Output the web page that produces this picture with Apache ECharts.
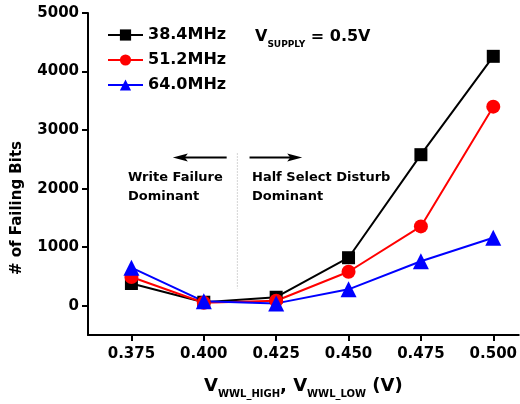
<!DOCTYPE html>
<html><head><meta charset="utf-8">
<script src="https://cdn.jsdelivr.net/npm/echarts@6/dist/echarts.min.js"></script>
<style>html,body{margin:0;padding:0;background:#fff}#c{width:520px;height:404px}</style>
</head><body><div id="c"></div>
<script>
const xValues = [0.375, 0.400, 0.425, 0.450, 0.475, 0.500];
const xTickLabels = ['0.375', '0.400', '0.425', '0.450', '0.475', '0.500'];
const yTickValues = [0, 1000, 2000, 3000, 4000, 5000];
const seriesNames = ['38.4MHz', '51.2MHz', '64.0MHz'];
const fail384 = [380, 60, 145, 820, 2580, 4260];
const fail512 = [490, 50, 85, 580, 1355, 3400];
const fail640 = [650, 75, 40, 280, 760, 1160];

const F = 'DejaVu Sans';
const chart = echarts.init(document.getElementById('c'));
function pairs(v){ return xValues.map((x,i)=>[x, v[i]]); }
const base = {
  type: 'line', lineStyle: {width: 2}, z: 3
};
chart.setOption({
  animation: false,
  grid: {left: 88, right: 0, top: 13, bottom: 67},
  xAxis: {
    type: 'value', min: 0.36, max: 0.5088,
    axisLine: {show: true, onZero: false, lineStyle: {color: '#000', width: 2}},
    axisTick: {show: true, length: 6, lineStyle: {color: '#000', width: 2}, customValues: xValues},
    axisLabel: {color: '#000', fontFamily: F, fontWeight: 'bold', fontSize: 15, margin: 12,
      customValues: xValues, formatter: v => xTickLabels[xValues.findIndex(x => Math.abs(x - v) < 1e-6)]},
    splitLine: {show: false},
    name: '{v|V}{s|WWL_HIGH}{v|, V}{s|WWL_LOW}{v| (V)}',
    nameLocation: 'middle', nameGap: 42,
    nameTextStyle: {color: '#000', rich: {
      v: {fontFamily: F, fontWeight: 'bold', fontSize: 18, color: '#000', verticalAlign: 'bottom'},
      s: {fontFamily: F, fontWeight: 'bold', fontSize: 10, color: '#000', verticalAlign: 'bottom', padding: [0,0,-4,0]}
    }}
  },
  yAxis: {
    type: 'value', min: -500, max: 5000,
    axisLine: {show: true, onZero: false, lineStyle: {color: '#000', width: 2}},
    axisTick: {show: true, length: 6, lineStyle: {color: '#000', width: 2}, customValues: yTickValues},
    axisLabel: {color: '#000', fontFamily: F, fontWeight: 'bold', fontSize: 15, margin: 9,
      customValues: yTickValues, formatter: v => String(Math.round(v))},
    splitLine: {show: false}
  },
  legend: {
    orient: 'vertical', left: 102, top: 22, itemWidth: 35, itemHeight: 14, itemGap: 9,
    textStyle: {fontFamily: F, fontWeight: 'bold', fontSize: 16, color: '#000'},
    data: seriesNames
  },
  series: [
    Object.assign({}, base, {name: seriesNames[0], data: pairs(fail384), color: '#000',
      symbol: 'rect', symbolSize: 13}),
    Object.assign({}, base, {name: seriesNames[1], data: pairs(fail512), color: '#ff0000',
      symbol: 'circle', symbolSize: 14}),
    Object.assign({}, base, {name: seriesNames[2], data: pairs(fail640), color: '#0000ff',
      symbol: 'triangle', symbolSize: 16})
  ]
});

function px(x, y){ return chart.convertToPixel({gridIndex: 0}, [x, y]); }
const dTop = px(0.4116, 2600), dBot = px(0.4116, 290);
const aL1 = px(0.4079, 2530), aL2 = px(0.3893, 2530);
const aR1 = px(0.4158, 2530), aR2 = px(0.4340, 2530);
function arrow(p1, p2){
  const dir = p2[0] > p1[0] ? 1 : -1;
  const tip = p2[0], y = p2[1];
  return [
    {type: 'line', shape: {x1: p1[0], y1: y, x2: tip - dir*10, y2: y}, style: {stroke: '#000', lineWidth: 2}},
    {type: 'polygon', shape: {points: [[tip, y], [tip - dir*15, y - 4], [tip - dir*12, y], [tip - dir*15, y + 4]]}, style: {fill: '#000'}}
  ];
}
const txt = {fontFamily: F, fontWeight: 'bold', fontSize: 13, fill: '#000'};
chart.setOption({
  graphic: [
    {type: 'line', shape: {x1: dTop[0], y1: dTop[1], x2: dBot[0], y2: dBot[1]},
      style: {stroke: '#aaa', lineWidth: 1, lineDash: [1, 2]}},
    ...arrow(aL1, aL2), ...arrow(aR1, aR2),
    {type: 'text', left: 128, top: 171, style: Object.assign({text: 'Write Failure'}, txt)},
    {type: 'text', left: 128, top: 190, style: Object.assign({text: 'Dominant'}, txt)},
    {type: 'text', left: 252, top: 171, style: Object.assign({text: 'Half Select Disturb'}, txt)},
    {type: 'text', left: 252, top: 190, style: Object.assign({text: 'Dominant'}, txt)},
    {type: 'text', left: 255, top: 29, style: {
      text: '{v|V}{s|SUPPLY}{e| = 0.5V}',
      rich: {
        v: {fontFamily: F, fontWeight: 'bold', fontSize: 16, fill: '#000', verticalAlign: 'bottom'},
        s: {fontFamily: F, fontWeight: 'bold', fontSize: 9, fill: '#000', verticalAlign: 'bottom', padding: [0,0,-4,0]},
        e: {fontFamily: F, fontWeight: 'bold', fontSize: 16, fill: '#000', verticalAlign: 'bottom'}
      }}},
    {type: 'text', x: 17, y: 208, rotation: Math.PI/2, style: {
      text: '# of Failing Bits', fontFamily: F, fontWeight: 'bold', fontSize: 15, fill: '#000',
      align: 'center', verticalAlign: 'middle'}}
  ]
});
</script></body></html>
